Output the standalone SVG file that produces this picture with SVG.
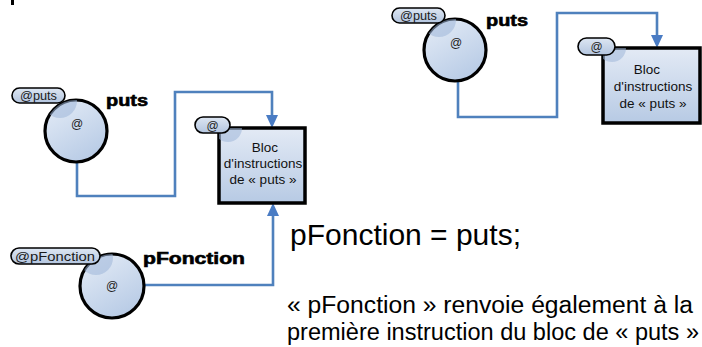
<svg xmlns="http://www.w3.org/2000/svg" width="702" height="347" viewBox="0 0 702 347">
<defs>
<linearGradient id="gNode" x1="0" y1="0" x2="0.6" y2="1">
<stop offset="0" stop-color="#e6edf7"/>
<stop offset="1" stop-color="#b9cce6"/>
</linearGradient>
<linearGradient id="gBox" x1="0" y1="0" x2="0" y2="1">
<stop offset="0" stop-color="#e3eaf5"/>
<stop offset="1" stop-color="#b7cae4"/>
</linearGradient>
<linearGradient id="gPill" x1="0" y1="0" x2="0" y2="1">
<stop offset="0" stop-color="#dde6f2"/>
<stop offset="1" stop-color="#b3c5df"/>
</linearGradient>
<marker id="arr" viewBox="0 0 13 12" refX="0" refY="6" markerWidth="13" markerHeight="12" markerUnits="userSpaceOnUse" orient="auto">
<path d="M0,0 L13,6 L0,12 z" fill="#4a7cc4"/>
</marker>
</defs>
<style>
.circ{fill:url(#gNode);stroke:#000;stroke-width:3.2}
.box{fill:url(#gBox);stroke:#000;stroke-width:3.5}
.pill{fill:url(#gPill);stroke:#000;stroke-width:1.6}
.shade{fill:#9fb6d8;opacity:0.55}
.pt{font-family:"Liberation Sans",Arial,sans-serif;font-size:12px;fill:#1a1a1a}
.name{font-family:"Liberation Sans",Arial,sans-serif;font-size:16px;font-weight:bold;fill:#000;stroke:#000;stroke-width:0.6}
.at{font-family:"Liberation Sans",Arial,sans-serif;font-size:12px;fill:#222;text-anchor:middle}
.bt{font-family:"Liberation Sans",Arial,sans-serif;font-size:13.5px;fill:#111;text-anchor:middle}
.conn{fill:none;stroke:#4f81bd;stroke-width:2.6}
.big{font-family:"Liberation Sans",Arial,sans-serif;font-size:30px;fill:#000}
.small{font-family:"Liberation Sans",Arial,sans-serif;font-size:23.5px;fill:#000}
</style>
<clipPath id="c1"><circle cx="76" cy="131" r="31"/></clipPath>
<clipPath id="c2"><circle cx="112" cy="286" r="32"/></clipPath>
<clipPath id="c3"><circle cx="455" cy="50" r="31"/></clipPath>
<clipPath id="b1"><rect x="219" y="128" width="86" height="75"/></clipPath>
<clipPath id="b2"><rect x="603" y="48" width="97" height="75"/></clipPath>

<rect x="11" y="0" width="3" height="5" fill="#000"/>

<g id="connectors">
<path class="conn" d="M77,162 V196 H175 V92 H272 V115" marker-end="url(#arr)"/>
<path class="conn" d="M144,285 H273 V216" marker-end="url(#arr)"/>
<path class="conn" d="M458,81 V117 H557 V13 H657 V35" marker-end="url(#arr)"/>
</g>

<g id="node-puts-1">
<circle class="circ" cx="76" cy="131" r="31"/>
<circle class="shade" cx="60" cy="101" r="17" clip-path="url(#c1)"/>
<rect class="pill" x="12" y="88" width="53" height="15" rx="7.5"/>
<text class="pt" x="20" y="100" textLength="37" lengthAdjust="spacingAndGlyphs">@puts</text>
<text class="name" x="106" y="106" textLength="42" lengthAdjust="spacingAndGlyphs">puts</text>
<text class="at" x="77" y="128">@</text>
</g>

<g id="node-bloc-1">
<rect class="box" x="219" y="128" width="86" height="75"/>
<circle class="shade" cx="228" cy="128" r="14" clip-path="url(#b1)"/>
<rect class="pill" x="195" y="117" width="35" height="16" rx="8"/>
<text class="at" x="212.5" y="129.5">@</text>
<text class="bt" x="265" y="152">Bloc</text>
<text class="bt" x="263" y="168">d'instructions</text>
<text class="bt" x="263" y="184">de « puts »</text>
</g>

<g id="node-pfonction">
<circle class="circ" cx="112" cy="286" r="32"/>
<circle class="shade" cx="96" cy="258" r="17" clip-path="url(#c2)"/>
<rect class="pill" x="11" y="248" width="89" height="16" rx="8"/>
<text class="pt" x="15" y="260.5" textLength="80" lengthAdjust="spacingAndGlyphs">@pFonction</text>
<text class="name" x="143" y="264" textLength="102" lengthAdjust="spacingAndGlyphs">pFonction</text>
<text class="at" x="112" y="290">@</text>
</g>

<g id="node-puts-2">
<circle class="circ" cx="455" cy="50" r="31"/>
<circle class="shade" cx="439" cy="20" r="17" clip-path="url(#c3)"/>
<rect class="pill" x="392" y="8" width="53" height="15" rx="7.5"/>
<text class="pt" x="400" y="20" textLength="37" lengthAdjust="spacingAndGlyphs">@puts</text>
<text class="name" x="486" y="26" textLength="42" lengthAdjust="spacingAndGlyphs">puts</text>
<text class="at" x="456" y="47">@</text>
</g>

<g id="node-bloc-2">
<rect class="box" x="603" y="48" width="97" height="75"/>
<circle class="shade" cx="612" cy="48" r="14" clip-path="url(#b2)"/>
<rect class="pill" x="578" y="38" width="37" height="17" rx="8.5"/>
<text class="at" x="596.5" y="51">@</text>
<text class="bt" x="647" y="74">Bloc</text>
<text class="bt" x="653" y="91">d'instructions</text>
<text class="bt" x="653" y="108">de « puts »</text>
</g>

<g id="texts">
<text class="big" x="290" y="245">pFonction = puts;</text>
<text class="small" x="287" y="313" textLength="406" lengthAdjust="spacingAndGlyphs">« pFonction » renvoie également à la</text>
<text class="small" x="287" y="340" textLength="412" lengthAdjust="spacingAndGlyphs">première instruction du bloc de « puts »</text>
</g>
</svg>
